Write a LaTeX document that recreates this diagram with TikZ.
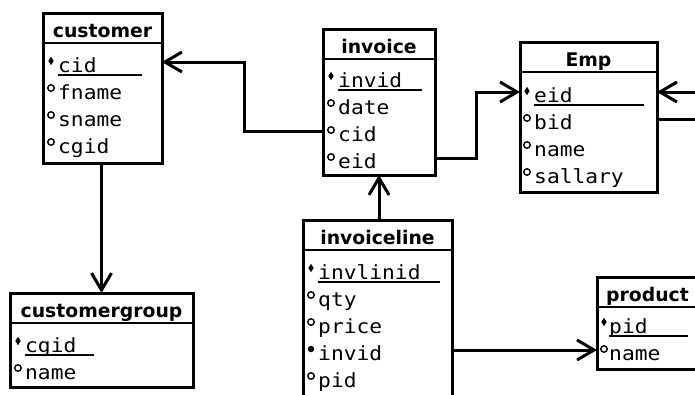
\documentclass[tikz,border=0pt]{standalone}
\usepackage{fontspec}
\usepackage{tikz}
\usetikzlibrary{arrows.meta,positioning,calc,shapes.geometric}
\newfontfamily\headfont{DejaVu Sans}
\newfontfamily\fldfont[FakeStretch=1.09]{DejaVu Sans Mono}
\tikzset{
  tbl/.style={draw,line width=3pt,outer sep=0pt,inner sep=0pt,anchor=north west},
  sep/.style={line width=2.2pt},
  head/.style={anchor=base,inner sep=0pt,font=\headfont\bfseries\fontsize{18.8}{22}\selectfont},
  fld/.style={anchor=base west,inner sep=0pt,text height=20pt,text depth=0pt,
              font=\fldfont\fontsize{19.5}{22}\selectfont},
  pkdot/.style={diamond,fill,inner sep=0pt,minimum width=5.5pt,minimum height=8.5pt},
  attdot/.style={circle,draw,fill=white,line width=1.4pt,inner sep=0pt,minimum size=6.5pt},
  fkdot/.style={circle,fill,inner sep=0pt,minimum size=6.5pt},
  ul/.style={line width=1.4pt},
  link/.style={line width=3pt},
  rel/.style={link,-{Straight Barb[length=17pt,width=20pt]}},
}

\begin{document}
\begin{tikzpicture}[x=1pt,y=-1pt]
  \useasboundingbox (0,0) rectangle (695,394);
  \clip (0,0) rectangle (695,394);
  % tables
  \node[tbl,minimum width=119pt,minimum height=150pt] (cust) at (43,13) {};
  \node[tbl,minimum width=112pt,minimum height=146pt] (inv) at (323,29) {};
  \node[tbl,minimum width=137pt,minimum height=150pt] (emp) at (520,42) {};
  \node[tbl,minimum width=183pt,minimum height=94pt] (cgrp) at (10,293) {};
  \node[tbl,minimum width=149pt,minimum height=200pt] (invl) at (303,220) {};
  \node[tbl,minimum width=101pt,minimum height=92pt] (prod) at (597,277) {};
  \foreach \b/\t in {cust/customer,inv/invoice,emp/Emp,cgrp/customergroup,
                     invl/invoiceline,prod/product}{
    \draw[sep] ($(\b.north west)+(0,30)$) -- ($(\b.north east)+(0,30)$);
    \node[head] (\b-t) at ($(\b.north)+(0,24)$) {\t};
  }
  % fields
  \foreach \m/\f [count=\i] in {pkdot/cid,attdot/fname,attdot/sname,attdot/cgid}{
    \node[fld] (cust-\f) at ($(cust.north west)+(15,32+27*\i)$) {\f};
    \node[\m] at ($(cust-\f.base west)+(-7,-11)$) {};
  }
  \foreach \m/\f [count=\i] in {pkdot/invid,attdot/date,attdot/cid,attdot/eid}{
    \node[fld] (inv-\f) at ($(inv.north west)+(15,31+27*\i)$) {\f};
    \node[\m] at ($(inv-\f.base west)+(-7,-11)$) {};
  }
  \foreach \m/\f [count=\i] in {pkdot/eid,attdot/bid,attdot/name,attdot/sallary}{
    \node[fld] (emp-\f) at ($(emp.north west)+(14,33+27*\i)$) {\f};
    \node[\m] at ($(emp-\f.base west)+(-7,-11)$) {};
  }
  \foreach \m/\f [count=\i] in {pkdot/cgid,attdot/name}{
    \node[fld] (cgrp-\f) at ($(cgrp.north west)+(15,32+27*\i)$) {\f};
    \node[\m] at ($(cgrp-\f.base west)+(-7,-11)$) {};
  }
  \foreach \m/\f [count=\i] in {pkdot/invlinid,attdot/qty,attdot/price,fkdot/invid,attdot/pid}{
    \node[fld] (invl-\f) at ($(invl.north west)+(15,32+27*\i)$) {\f};
    \node[\m] at ($(invl-\f.base west)+(-7,-11)$) {};
  }
  \foreach \m/\f [count=\i] in {pkdot/pid,attdot/name}{
    \node[fld] (prod-\f) at ($(prod.north west)+(12,29+27*\i)$) {\f};
    \node[\m] at ($(prod-\f.base west)+(-5,-11)$) {};
  }
  % keys
  \draw[ul] ($(cust-cid.base west)+(0,3)$) -- ++(84,0);
  \draw[ul] ($(inv-invid.base west)+(0,3)$) -- ++(84,0);
  \draw[ul] ($(emp-eid.base west)+(0,3)$) -- ++(110,0);
  \draw[ul] ($(cgrp-cgid.base west)+(0,3)$) -- ++(69,0);
  \draw[ul] ($(invl-invlinid.base west)+(0,3)$) -- ++(122,0);
  \draw[ul] ($(prod-pid.base west)+(0,3)$) -- ++(79,0);
  % relations
  \coordinate (offa) at ($(emp.east |- emp-eid)+(60,0)$);
  \coordinate (offb) at ($(emp.east |- emp-bid)+(60,0)$);
  \draw[rel] (inv.west |- inv-cid) -- ++(-79,0) |- (cust.east |- cust-cid);
  \draw[rel] (inv.east |- inv-eid) -- ++(41,0) |- (emp.west |- emp-eid);
  \draw[rel] (inv.south |- invl.north) -- (inv.south);
  \draw[rel] (cgrp.north |- cust.south) -- (cgrp.north);
  \draw[rel] (invl.east |- invl-invid) -- (prod.west |- invl-invid);
  \draw[rel] (offa) -- (emp.east |- emp-eid);
  \draw[link] (emp.east |- emp-bid) -- (offb);
\end{tikzpicture}
\end{document}
